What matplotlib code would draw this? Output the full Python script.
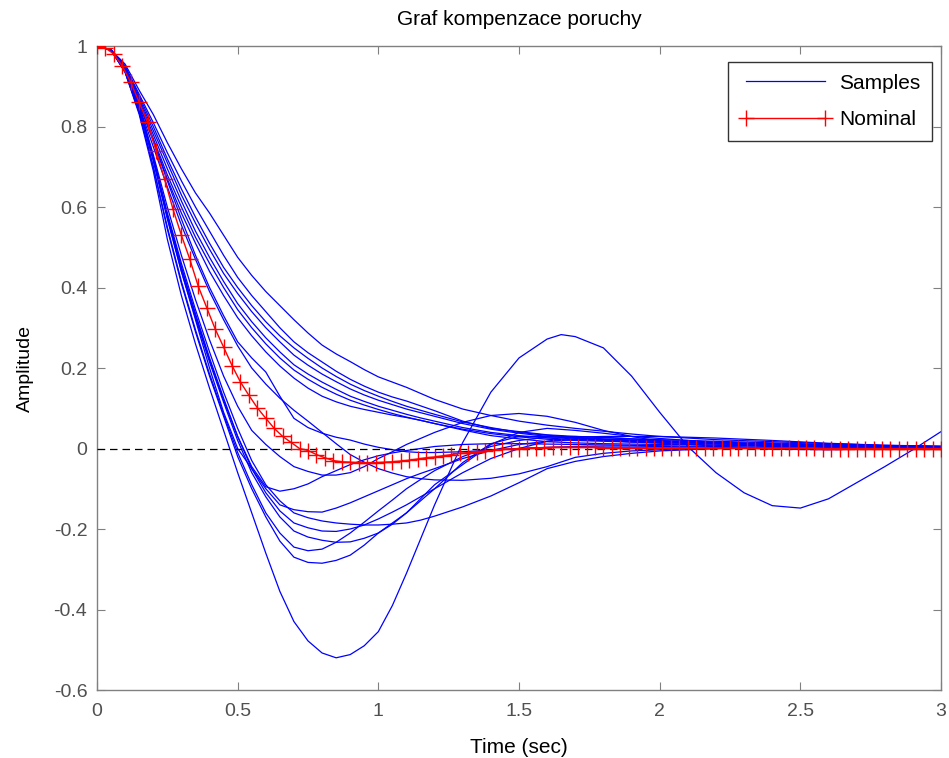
import matplotlib
matplotlib.use('Agg')
import matplotlib.pyplot as plt

# time grid of the sample responses (sec)
t_samples = [0, 0.05, 0.1, 0.15, 0.2, 0.25, 0.3, 0.35, 0.4, 0.45, 0.5, 0.55, 0.6, 0.65,
             0.7, 0.75, 0.8, 0.85, 0.9, 0.95, 1.0, 1.05, 1.1, 1.15, 1.2, 1.3, 1.4, 1.5,
             1.6, 1.7, 1.8, 1.9, 2.0, 2.2, 2.4, 2.6, 2.8, 3.0]

# slow, non-overshooting samples
u1 = [1, 0.99, 0.955, 0.89, 0.83, 0.76, 0.695, 0.635, 0.585, 0.53, 0.475, 0.43, 0.39, 0.355,
      0.32, 0.287, 0.257, 0.235, 0.216, 0.196, 0.178, 0.165, 0.152, 0.137, 0.122, 0.098, 0.082,
      0.068, 0.058, 0.05, 0.043, 0.036, 0.03, 0.022, 0.017, 0.012, 0.008, 0.006]
u2 = [1, 0.99, 0.95, 0.88, 0.81, 0.735, 0.665, 0.6, 0.54, 0.48, 0.425, 0.38, 0.34, 0.3,
      0.265, 0.238, 0.215, 0.192, 0.172, 0.155, 0.14, 0.128, 0.118, 0.106, 0.094, 0.068, 0.05,
      0.042, 0.034, 0.03, 0.027, 0.024, 0.022, 0.018, 0.014, 0.01, 0.007, 0.005]
u3 = [1, 0.99, 0.95, 0.875, 0.8, 0.72, 0.645, 0.575, 0.51, 0.45, 0.4, 0.355, 0.315, 0.28,
      0.25, 0.224, 0.2, 0.179, 0.16, 0.144, 0.13, 0.117, 0.105, 0.095, 0.085, 0.066, 0.052,
      0.04, 0.033, 0.028, 0.024, 0.021, 0.019, 0.016, 0.012, 0.009, 0.006, 0.004]
u4 = [1, 0.99, 0.945, 0.87, 0.79, 0.71, 0.63, 0.56, 0.495, 0.435, 0.385, 0.34, 0.3, 0.265,
      0.232, 0.207, 0.185, 0.166, 0.148, 0.133, 0.12, 0.109, 0.098, 0.089, 0.08, 0.062, 0.048,
      0.038, 0.03, 0.026, 0.023, 0.02, 0.018, 0.014, 0.011, 0.008, 0.006, 0.004]
u5 = [1, 0.99, 0.945, 0.865, 0.78, 0.695, 0.615, 0.54, 0.475, 0.415, 0.36, 0.315, 0.275, 0.24,
      0.208, 0.185, 0.165, 0.147, 0.13, 0.117, 0.105, 0.095, 0.085, 0.076, 0.068, 0.052, 0.04,
      0.032, 0.026, 0.022, 0.02, 0.018, 0.016, 0.013, 0.01, 0.007, 0.005, 0.004]
u6 = [1, 0.99, 0.94, 0.86, 0.77, 0.68, 0.6, 0.525, 0.46, 0.4, 0.345, 0.3, 0.26, 0.225,
      0.195, 0.172, 0.152, 0.135, 0.12, 0.108, 0.097, 0.087, 0.078, 0.07, 0.062, 0.048, 0.037,
      0.029, 0.023, 0.02, 0.018, 0.016, 0.015, 0.012, 0.009, 0.007, 0.005, 0.003]
u7 = [1, 0.99, 0.94, 0.855, 0.765, 0.67, 0.585, 0.51, 0.44, 0.38, 0.325, 0.28, 0.24, 0.205,
      0.175, 0.15, 0.13, 0.116, 0.105, 0.097, 0.09, 0.083, 0.077, 0.07, 0.062, 0.046, 0.032,
      0.024, 0.017, 0.014, 0.012, 0.011, 0.01, 0.009, 0.007, 0.005, 0.004, 0.003]
m1 = [1, 0.99, 0.94, 0.85, 0.75, 0.65, 0.555, 0.47, 0.39, 0.32, 0.255, 0.2, 0.16, 0.125,
      0.095, 0.068, 0.04, 0.012, -0.015, -0.034, -0.05, -0.061, -0.07, -0.075, -0.078, -0.079,
      -0.074, -0.063, -0.045, -0.022, -0.012, -0.006, -0.003, 0.0, 0.002, 0.002, 0.001, 0.0]
m2 = [1, 0.99, 0.945, 0.86, 0.765, 0.665, 0.57, 0.48, 0.4, 0.33, 0.265, 0.225, 0.19, 0.13,
      0.075, 0.052, 0.038, 0.028, 0.021, 0.011, 0.003, -0.003, -0.008, -0.01, -0.01, -0.008,
      -0.004, 0.0, 0.003, 0.005, 0.006, 0.006, 0.005, 0.003, 0.002, 0.001, 0.0, 0.0]

# faster samples that undershoot
b = [1, 0.99, 0.935, 0.835, 0.7, 0.545, 0.41, 0.29, 0.18, 0.08, -0.02, -0.1, -0.17, -0.23,
     -0.27, -0.283, -0.285, -0.278, -0.265, -0.24, -0.21, -0.185, -0.16, -0.13, -0.1, -0.035,
     0.012, 0.03, 0.03, 0.025, 0.02, 0.016, 0.013, 0.008, 0.005, 0.003, 0.002, 0.001]
c = [1, 0.99, 0.935, 0.835, 0.7, 0.55, 0.415, 0.295, 0.185, 0.085, -0.01, -0.09, -0.16, -0.21,
     -0.245, -0.254, -0.25, -0.233, -0.21, -0.183, -0.155, -0.128, -0.1, -0.077, -0.055, -0.02,
     0.005, 0.02, 0.028, 0.03, 0.028, 0.024, 0.02, 0.012, 0.006, 0.003, 0.001, 0.0]
d = [1, 0.99, 0.94, 0.845, 0.715, 0.57, 0.44, 0.325, 0.215, 0.115, 0.02, -0.06, -0.12, -0.17,
     -0.205, -0.22, -0.228, -0.233, -0.232, -0.223, -0.21, -0.188, -0.16, -0.125, -0.09, -0.04,
     0.01, 0.04, 0.05, 0.045, 0.038, 0.03, 0.025, 0.015, 0.008, 0.004, 0.002, 0.001]
e = [1, 0.99, 0.94, 0.845, 0.72, 0.58, 0.45, 0.335, 0.225, 0.125, 0.03, -0.05, -0.11, -0.155,
     -0.185, -0.197, -0.205, -0.206, -0.2, -0.19, -0.175, -0.158, -0.14, -0.12, -0.1, -0.06,
     -0.025, 0.0, 0.018, 0.028, 0.03, 0.03, 0.03, 0.026, 0.02, 0.013, 0.008, 0.005]
f = [1, 0.99, 0.94, 0.85, 0.725, 0.585, 0.46, 0.345, 0.24, 0.14, 0.05, -0.03, -0.09, -0.13,
     -0.16, -0.172, -0.18, -0.185, -0.188, -0.19, -0.19, -0.188, -0.185, -0.178, -0.168, -0.145,
     -0.118, -0.085, -0.05, -0.032, -0.02, -0.012, -0.006, 0.0, 0.002, 0.002, 0.001, 0.0]
g = [1, 0.99, 0.94, 0.845, 0.72, 0.575, 0.44, 0.32, 0.2, 0.09, 0.0, -0.05, -0.1, -0.14,
     -0.152, -0.157, -0.158, -0.148, -0.135, -0.12, -0.105, -0.09, -0.075, -0.062, -0.05, -0.025,
     -0.005, 0.01, 0.018, 0.022, 0.022, 0.02, 0.018, 0.012, 0.007, 0.004, 0.002, 0.001]
h = [1, 0.99, 0.94, 0.845, 0.72, 0.58, 0.45, 0.33, 0.22, 0.12, 0.03, -0.045, -0.095, -0.106,
     -0.1, -0.088, -0.07, -0.055, -0.04, -0.028, -0.018, -0.011, -0.005, 0.0, 0.005, 0.01,
     0.012, 0.012, 0.011, 0.01, 0.009, 0.008, 0.007, 0.005, 0.003, 0.002, 0.001, 0.0]
i_ = [1, 0.99, 0.94, 0.85, 0.73, 0.6, 0.48, 0.37, 0.27, 0.18, 0.105, 0.045, 0.01, -0.02,
      -0.045, -0.057, -0.066, -0.066, -0.06, -0.045, -0.025, -0.008, 0.01, 0.025, 0.04, 0.065,
      0.082, 0.087, 0.08, 0.065, 0.045, 0.03, 0.018, 0.005, -0.002, -0.003, -0.001, 0.0]

samples = [u1, u2, u3, u4, u5, u6, u7, m1, m2, b, c, d, e, f, g, h, i_]

# the strongly oscillating sample has its own, denser grid
t_a = [0, 0.05, 0.1, 0.15, 0.2, 0.25, 0.3, 0.35, 0.4, 0.45, 0.5, 0.55, 0.6, 0.65, 0.7, 0.75,
       0.8, 0.85, 0.9, 0.95, 1.0, 1.05, 1.1, 1.15, 1.2, 1.3, 1.4, 1.5, 1.6, 1.65, 1.7, 1.8, 1.9,
       2.0, 2.1, 2.2, 2.3, 2.4, 2.5, 2.6, 2.7, 2.8, 2.9, 3.0]
a = [1, 0.99, 0.935, 0.83, 0.69, 0.52, 0.38, 0.26, 0.15, 0.045, -0.06, -0.16, -0.26, -0.355,
     -0.43, -0.478, -0.508, -0.52, -0.512, -0.49, -0.455, -0.39, -0.31, -0.225, -0.14, 0.015,
     0.14, 0.225, 0.272, 0.283, 0.278, 0.25, 0.18, 0.09, 0.005, -0.06, -0.11, -0.142, -0.148,
     -0.125, -0.085, -0.045, -0.003, 0.042]

# nominal response, one value every 0.03 s
t_nominal = [k * 0.03 for k in range(101)]
nominal = [1.0, 0.995, 0.98, 0.95, 0.91, 0.86, 0.81, 0.74, 0.67, 0.595,
           0.53, 0.47, 0.403, 0.35, 0.297, 0.252, 0.206, 0.165, 0.132, 0.101,
           0.075, 0.05, 0.03, 0.015, 0.0, -0.005, -0.015, -0.023, -0.03, -0.033,
           -0.034, -0.035, -0.035, -0.035, -0.034, -0.033, -0.031, -0.029, -0.026, -0.023,
           -0.021, -0.018, -0.015, -0.012, -0.01, -0.008, -0.006, -0.004, -0.002, -0.001,
           0.0, 0.001, 0.002, 0.002, 0.003, 0.003, 0.003, 0.003, 0.003, 0.003,
           0.002, 0.002, 0.002, 0.002, 0.002, 0.002, 0.002, 0.002, 0.002, 0.002,
           0.002, 0.001, 0.001, 0.001, 0.001, 0.001, 0.001, 0.001, 0.001, 0.001,
           0.001, 0.001, 0.001, 0.001, 0.001, 0.001, 0.0, 0.0, 0.0, 0.0,
           0.0, 0.0, 0.0, 0.0, 0.0, 0.0, 0.0, 0.0, 0.0, 0.0, 0.0]

x_ticks = [0, 0.5, 1, 1.5, 2, 2.5, 3]
x_labels = ['0', '0.5', '1', '1.5', '2', '2.5', '3']
y_ticks = [-0.6, -0.4, -0.2, 0, 0.2, 0.4, 0.6, 0.8, 1]
y_labels = ['-0.6', '-0.4', '-0.2', '0', '0.2', '0.4', '0.6', '0.8', '1']

plt.rcParams['font.family'] = ['Liberation Sans', 'DejaVu Sans']

fig = plt.figure(figsize=(9.49, 7.58), dpi=100)
ax = fig.add_axes([0.1022, 0.0897, 0.8894, 0.8496])

ax.plot(t_samples, u1, color='#0000ff', lw=0.9, label='Samples', zorder=2)
for s in samples[1:]:
    ax.plot(t_samples, s, color='#0000ff', lw=0.9, zorder=2)
ax.plot(t_a, a, color='#0000ff', lw=0.9, zorder=2)

ax.axhline(0, color='black', lw=0.9, ls=(0, (6, 4)), zorder=3)
ax.plot(t_nominal, nominal, color='red', lw=1.0, marker='+', ms=11, mew=1.0,
        label='Nominal', zorder=4)

ax.set_xlim(0, 3)
ax.set_ylim(-0.6, 1)
ax.set_xticks(x_ticks)
ax.set_xticklabels(x_labels)
ax.set_yticks(y_ticks)
ax.set_yticklabels(y_labels)

gray = '#808080'
for sp in ax.spines.values():
    sp.set_color(gray)
    sp.set_linewidth(1.0)
ax.tick_params(direction='in', length=5.5, width=0.8, color=gray, labelcolor='#505050',
               labelsize=14, top=True, right=True)
ax.tick_params(axis='x', pad=9)
ax.tick_params(axis='y', pad=7)

ax.set_title('Graf kompenzace poruchy', fontsize=15, pad=15)
ax.set_xlabel('Time (sec)', fontsize=15, labelpad=13)
ax.set_ylabel('Amplitude', fontsize=14, labelpad=14)

leg = ax.legend(loc='upper right', fontsize=15, numpoints=2, frameon=True, fancybox=False,
                borderpad=0.55, labelspacing=0.85, handlelength=4.4, handletextpad=0.4,
                borderaxespad=0, bbox_to_anchor=(0.9893, 0.975))
leg.get_frame().set_edgecolor('black')
leg.get_frame().set_linewidth(1.0)

fig.savefig('out.png', dpi=100)
